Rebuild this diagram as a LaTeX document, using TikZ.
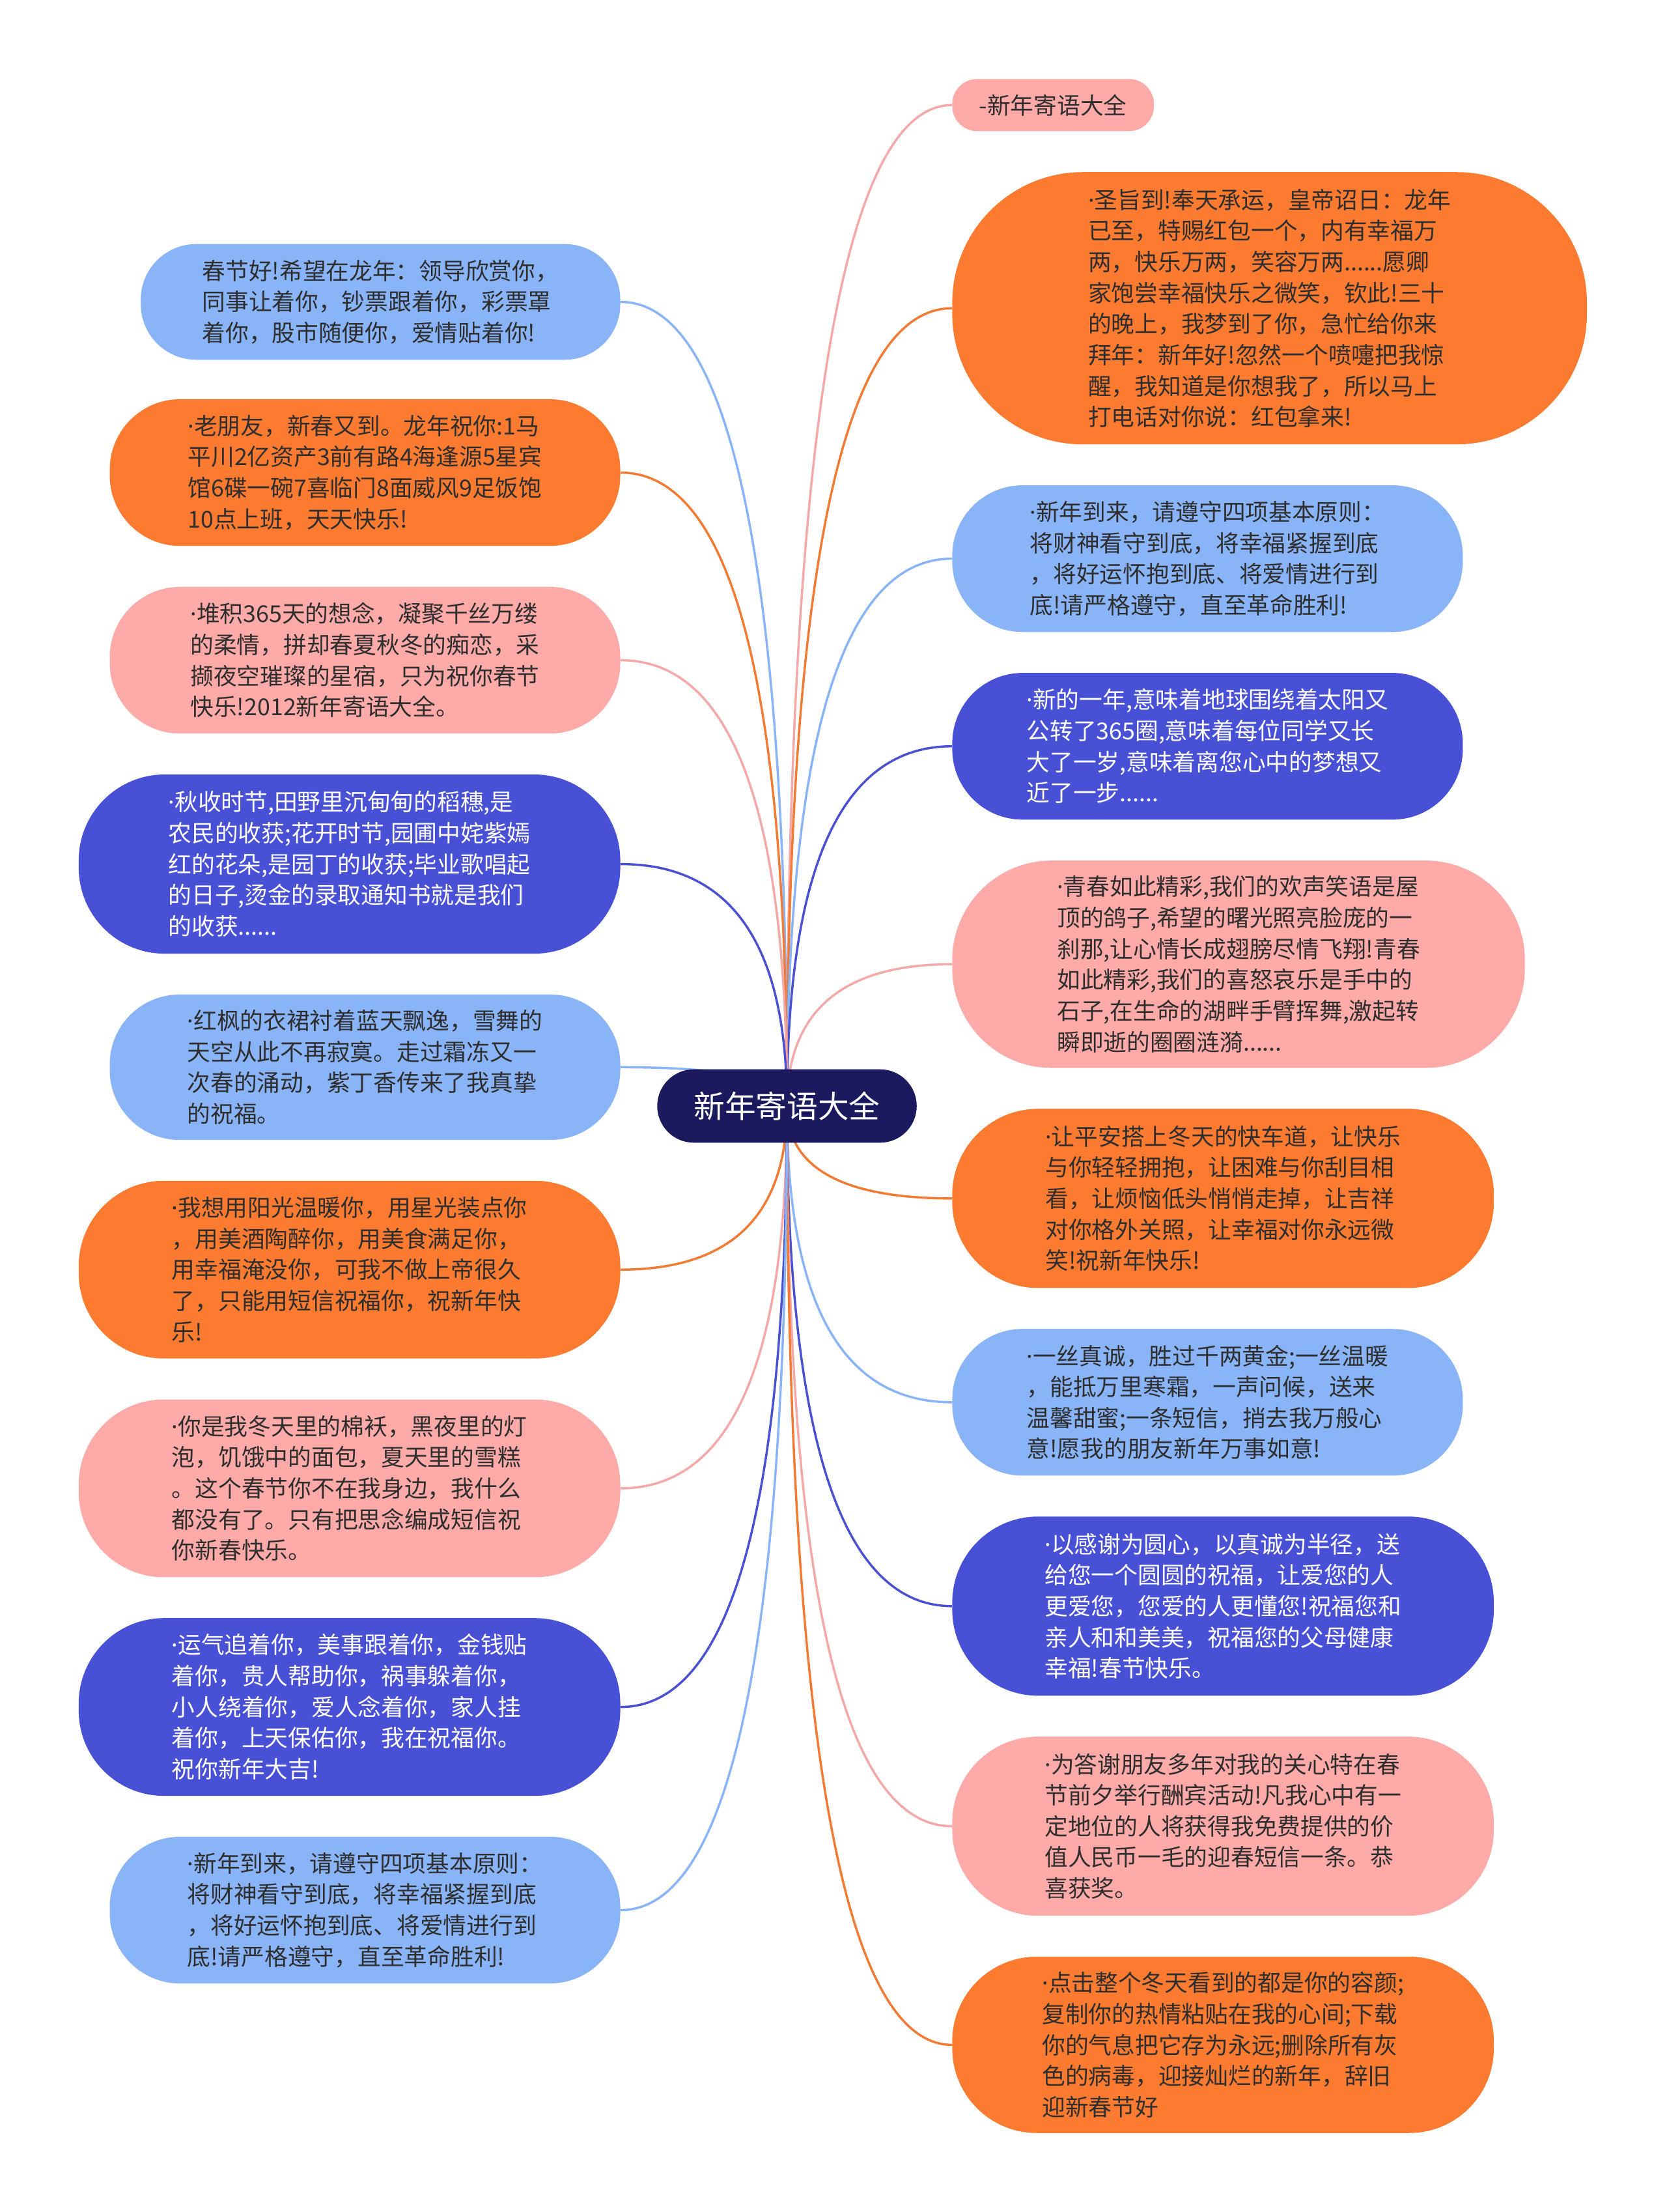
\documentclass[tikz,border=0pt]{standalone}
\usepackage{fontspec}
\newfontfamily\cjk{Noto Sans CJK SC}
\newfontfamily\latf{Noto Sans}
\newcommand\mdotx{{\latf ·}}
\usetikzlibrary{calc}
\pgfdeclarelayer{bg}
\pgfsetlayers{bg,main}
\definecolor{cBlue}{HTML}{8AB4F8}
\definecolor{cOrange}{HTML}{FC7B30}
\definecolor{cPink}{HTML}{FDAAA8}
\definecolor{cIndigo}{HTML}{4850D5}
\definecolor{cNavy}{HTML}{1C1A5E}
\definecolor{lBlue}{HTML}{8AB4F8}
\definecolor{lOrange}{HTML}{F27A32}
\definecolor{lPink}{HTML}{F5A8A8}
\definecolor{lIndigo}{HTML}{4A50D2}
\definecolor{txtdark}{HTML}{2E2E2E}
\newcommand\mmlink[2]{%
  \draw[conn,#1] (c.center) .. controls ($(c.center)!0.6667!(c.center |- #2)$) and ($(#2)!0.6667!(c.center |- #2)$) .. (#2);}
\tikzset{
  bub/.style={rectangle, inner sep=0pt, align=left, text=txtdark,
    font=\cjk\fontsize{16.5pt}{22pt}\selectfont},
  sz/.style n args={2}{minimum width=#1pt, minimum height=#2pt, rounded corners=0.48*#2pt},
  fb/.style={bub, fill=cBlue},
  fo/.style={bub, fill=cOrange},
  fp/.style={bub, fill=cPink},
  fi/.style={bub, fill=cIndigo, text=white},
  conn/.style={line width=1.6pt},
}
\begin{document}
\begin{tikzpicture}[x=1pt,y=-1pt]
\useasboundingbox (0,0) rectangle (1182,1568);

% central node
\node[fill=cNavy, text=white, inner sep=0pt, rounded corners=26pt,
  minimum width=184pt, minimum height=52pt,
  font=\cjk\fontsize{22pt}{26pt}\selectfont] (c) at (558,784) {新年寄语大全};

% right side
\node[fp, sz={143}{37}, anchor=west] (r0) at (675,74.5) {-新年寄语大全};
\node[fo, sz={450}{193}, anchor=west] (r1) at (675,218.5) {\mdotx{}圣旨到!奉天承运，皇帝诏日：龙年\\已至，特赐红包一个，内有幸福万\\两，快乐万两，笑容万两......愿卿\\家饱尝幸福快乐之微笑，钦此!三十\\的晚上，我梦到了你，急忙给你来\\拜年：新年好!忽然一个喷嚏把我惊\\醒，我知道是你想我了，所以马上\\打电话对你说：红包拿来!};
\node[fb, sz={362}{104}, anchor=west] (r2) at (675,396) {\mdotx{}新年到来，请遵守四项基本原则：\\将财神看守到底，将幸福紧握到底\\，将好运怀抱到底、将爱情进行到\\底!请严格遵守，直至革命胜利!};
\node[fi, sz={362}{104}, anchor=west] (r3) at (675,529) {\mdotx{}新的一年,意味着地球围绕着太阳又\\公转了365圈,意味着每位同学又长\\大了一岁,意味着离您心中的梦想又\\近了一步......};
\node[fp, sz={406}{147}, anchor=west] (r4) at (675,683.5) {\mdotx{}青春如此精彩,我们的欢声笑语是屋\\顶的鸽子,希望的曙光照亮脸庞的一\\刹那,让心情长成翅膀尽情飞翔!青春\\如此精彩,我们的喜怒哀乐是手中的\\石子,在生命的湖畔手臂挥舞,激起转\\瞬即逝的圈圈涟漪......};
\node[fo, sz={384}{127}, anchor=west] (r5) at (675,849.5) {\mdotx{}让平安搭上冬天的快车道，让快乐\\与你轻轻拥抱，让困难与你刮目相\\看，让烦恼低头悄悄走掉，让吉祥\\对你格外关照，让幸福对你永远微\\笑!祝新年快乐!};
\node[fb, sz={362}{104}, anchor=west] (r6) at (675,994) {\mdotx{}一丝真诚，胜过千两黄金;一丝温暖\\，能抵万里寒霜，一声问候，送来\\温馨甜蜜;一条短信，捎去我万般心\\意!愿我的朋友新年万事如意!};
\node[fi, sz={384}{127}, anchor=west] (r7) at (675,1138.5) {\mdotx{}以感谢为圆心，以真诚为半径，送\\给您一个圆圆的祝福，让爱您的人\\更爱您，您爱的人更懂您!祝福您和\\亲人和和美美，祝福您的父母健康\\幸福!春节快乐。};
\node[fp, sz={384}{127}, anchor=west] (r8) at (675,1294.5) {\mdotx{}为答谢朋友多年对我的关心特在春\\节前夕举行酬宾活动!凡我心中有一\\定地位的人将获得我免费提供的价\\值人民币一毛的迎春短信一条。恭\\喜获奖。};
\node[fo, sz={384}{125}, anchor=west] (r9) at (675,1449.5) {\mdotx{}点击整个冬天看到的都是你的容颜;\\复制你的热情粘贴在我的心间;下载\\你的气息把它存为永远;删除所有灰\\色的病毒，迎接灿烂的新年，辞旧\\迎新春节好};

% left side
\node[fb, sz={340}{82}, anchor=east] (l1) at (440,214) {春节好!希望在龙年：领导欣赏你，\\同事让着你，钞票跟着你，彩票罩\\着你，股市随便你，爱情贴着你!};
\node[fo, sz={362}{104}, anchor=east] (l2) at (440,335) {\mdotx{}老朋友，新春又到。龙年祝你:1马\\平川2亿资产3前有路4海逢源5星宾\\馆6碟一碗7喜临门8面威风9足饭饱\\10点上班，天天快乐!};
\node[fp, sz={362}{104}, anchor=east] (l3) at (440,468) {\mdotx{}堆积365天的想念，凝聚千丝万缕\\的柔情，拼却春夏秋冬的痴恋，采\\撷夜空璀璨的星宿，只为祝你春节\\快乐!2012新年寄语大全。};
\node[fi, sz={384}{127}, anchor=east] (l4) at (440,612.5) {\mdotx{}秋收时节,田野里沉甸甸的稻穗,是\\农民的收获;花开时节,园圃中姹紫嫣\\红的花朵,是园丁的收获;毕业歌唱起\\的日子,烫金的录取通知书就是我们\\的收获......};
\node[fb, sz={362}{103}, anchor=east] (l5) at (440,756.5) {\mdotx{}红枫的衣裙衬着蓝天飘逸，雪舞的\\天空从此不再寂寞。走过霜冻又一\\次春的涌动，紫丁香传来了我真挚\\的祝福。};
\node[fo, sz={384}{126}, anchor=east] (l6) at (440,900) {\mdotx{}我想用阳光温暖你，用星光装点你\\，用美酒陶醉你，用美食满足你，\\用幸福淹没你，可我不做上帝很久\\了，只能用短信祝福你，祝新年快\\乐!};
\node[fp, sz={384}{126}, anchor=east] (l7) at (440,1055) {\mdotx{}你是我冬天里的棉袄，黑夜里的灯\\泡，饥饿中的面包，夏天里的雪糕\\。这个春节你不在我身边，我什么\\都没有了。只有把思念编成短信祝\\你新春快乐。};
\node[fi, sz={384}{126}, anchor=east] (l8) at (440,1210) {\mdotx{}运气追着你，美事跟着你，金钱贴\\着你，贵人帮助你，祸事躲着你，\\小人绕着你，爱人念着你，家人挂\\着你，上天保佑你，我在祝福你。\\祝你新年大吉!};
\node[fb, sz={362}{104}, anchor=east] (l9) at (440,1354) {\mdotx{}新年到来，请遵守四项基本原则：\\将财神看守到底，将幸福紧握到底\\，将好运怀抱到底、将爱情进行到\\底!请严格遵守，直至革命胜利!};

\begin{pgfonlayer}{bg}
\fill[white] (0,0) rectangle (1182,1568);
\mmlink{lPink}{r0.west}
\mmlink{lOrange}{r1.west}
\mmlink{lBlue}{r2.west}
\mmlink{lIndigo}{r3.west}
\mmlink{lPink}{r4.west}
\mmlink{lOrange}{r5.west}
\mmlink{lBlue}{r6.west}
\mmlink{lIndigo}{r7.west}
\mmlink{lPink}{r8.west}
\mmlink{lOrange}{r9.west}
\mmlink{lBlue}{l1.east}
\mmlink{lOrange}{l2.east}
\mmlink{lPink}{l3.east}
\mmlink{lIndigo}{l4.east}
\mmlink{lBlue}{l5.east}
\mmlink{lOrange}{l6.east}
\mmlink{lPink}{l7.east}
\mmlink{lIndigo}{l8.east}
\mmlink{lBlue}{l9.east}
\end{pgfonlayer}
\end{tikzpicture}
\end{document}
